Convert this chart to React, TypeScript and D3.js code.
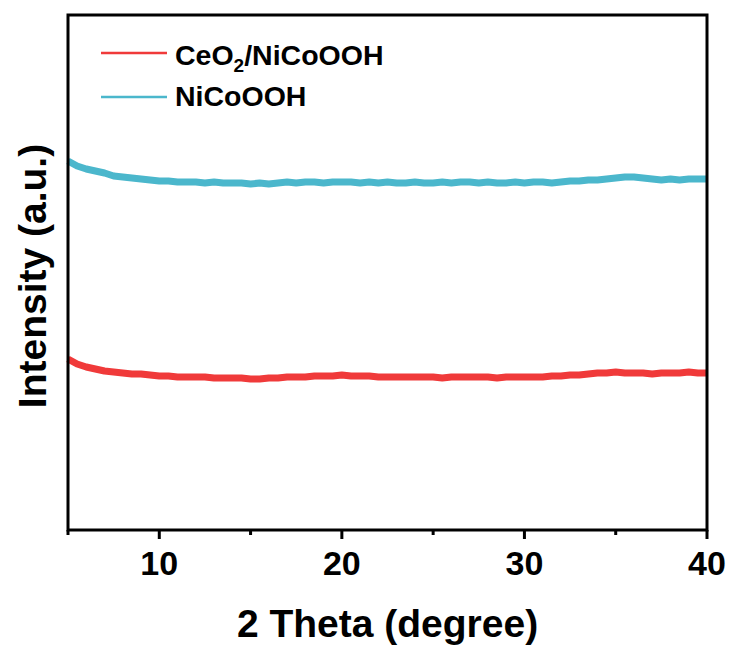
import React from "react";
import * as d3 from "d3";

const twoTheta: number[] = d3.range(0, 71).map((i) => 5 + i * 0.5);

const niCoOOH: number[] = [
  369, 364, 361, 359, 357, 354, 353, 352, 351, 350,
  349, 349, 348, 348, 348, 347, 348, 347, 347, 347,
  346, 347, 346, 347, 348, 347, 348, 348, 347, 348,
  348, 348, 347, 348, 347, 348, 347, 347, 348, 347,
  347, 348, 347, 348, 348, 347, 348, 347, 347, 348,
  347, 348, 348, 347, 348, 349, 349, 350, 350, 351,
  352, 353, 353, 352, 351, 350, 351, 350, 351, 351,
  351,
];

const ceO2NiCoOOH: number[] = [
  171, 166, 163, 161, 159, 158, 157, 156, 156, 155,
  154, 154, 153, 153, 153, 153, 152, 152, 152, 152,
  151, 151, 152, 152, 153, 153, 153, 154, 154, 154,
  155, 154, 154, 154, 153, 153, 153, 153, 153, 153,
  153, 152, 153, 153, 153, 153, 153, 152, 153, 153,
  153, 153, 153, 154, 154, 155, 155, 156, 157, 157,
  158, 157, 157, 157, 156, 157, 157, 157, 158, 157,
  157,
];

const majorTicks: number[] = [10, 20, 30, 40];
const minorTicks: number[] = [5, 15, 25, 35];

const RED = "#F03A3A";
const CYAN = "#4BB7CC";
const FONT = "'Liberation Sans', Arial, Helvetica, sans-serif";

export default function App() {
  const W = 731;
  const H = 647;
  const left = 68;
  const right = 707;
  const top = 15;
  const bottom = 530;

  const x = d3.scaleLinear().domain([5, 40]).range([left, right]);
  const y = d3.scaleLinear().domain([0, 515]).range([bottom, top]);

  const line = d3
    .line<number>()
    .x((_, i) => x(twoTheta[i]))
    .y((d) => y(d));

  return (
    <svg
      width={W}
      height={H}
      style={{ position: "absolute", left: 0, top: 0, background: "#fff" }}
      fontFamily={FONT}
    >
      <rect x={0} y={0} width={W} height={H} fill="#fff" />
      {/* data */}
      <path d={line(niCoOOH) || ""} fill="none" stroke={CYAN} strokeWidth={7} strokeLinejoin="round" />
      <path d={line(ceO2NiCoOOH) || ""} fill="none" stroke={RED} strokeWidth={7} strokeLinejoin="round" />

      {/* frame */}
      <rect
        x={left}
        y={top}
        width={right - left}
        height={bottom - top}
        fill="none"
        stroke="#000"
        strokeWidth={3}
      />

      {/* ticks */}
      {majorTicks.map((t) => (
        <line key={"M" + t} x1={x(t)} x2={x(t)} y1={bottom} y2={bottom + 9} stroke="#000" strokeWidth={3} />
      ))}
      {minorTicks.map((t) => (
        <line key={"m" + t} x1={x(t)} x2={x(t)} y1={bottom} y2={bottom + 5} stroke="#000" strokeWidth={3} />
      ))}
      {majorTicks.map((t) => (
        <text
          key={"l" + t}
          x={x(t)}
          y={575}
          textAnchor="middle"
          fontSize={34}
          fontWeight="bold"
          fill="#000"
        >
          {t}
        </text>
      ))}

      {/* axis titles */}
      <text x={(left + right) / 2} y={637} textAnchor="middle" fontSize={39} fontWeight="bold" fill="#000">
        2 Theta (degree)
      </text>
      <text
        transform={`translate(46, 276) rotate(-90)`}
        textAnchor="middle"
        fontSize={39}
        fontWeight="bold"
        fill="#000"
      >
        Intensity (a.u.)
      </text>

      {/* legend */}
      <line x1={101} x2={167} y1={53} y2={53} stroke={RED} strokeWidth={2.5} />
      <text x={175} y={65} fontSize={28.5} fontWeight="bold" fill="#000">
        CeO
        <tspan fontSize={19} dy={7}>2</tspan>
        <tspan dy={-7}>/NiCoOOH</tspan>
      </text>
      <line x1={101} x2={167} y1={97} y2={97} stroke={CYAN} strokeWidth={2.5} />
      <text x={175} y={106} fontSize={28.5} fontWeight="bold" fill="#000">
        NiCoOOH
      </text>
    </svg>
  );
}
